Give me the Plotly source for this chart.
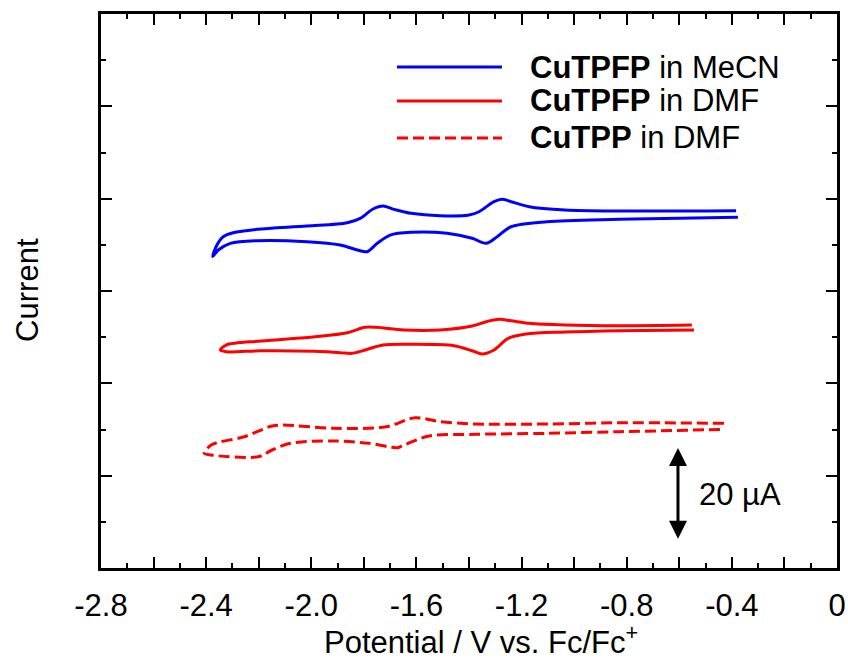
import plotly.graph_objects as go

# ---- data (potential in V vs Fc/Fc+, current in µA with arbitrary offsets) ----
blue_upper_v = [-2.375, -2.359, -2.335, -2.297, -2.206, -2.016, -1.863, -1.814, -1.765, -1.727, -1.685,
                -1.620, -1.510, -1.400, -1.362, -1.305, -1.274, -1.240, -1.171, -1.035, -0.829, -0.384]
blue_upper_i = [67.47, 69.96, 71.76, 72.62, 73.36, 74.07, 74.79, 75.74, 77.76, 78.41, 77.69,
                76.82, 76.30, 76.46, 77.17, 79.34, 79.86, 79.34, 78.25, 77.54, 77.32, 77.39]
blue_lower_v = [-2.375, -2.354, -2.308, -2.206, -2.016, -1.890, -1.825, -1.788, -1.749, -1.700,
                -1.620, -1.483, -1.388, -1.335, -1.293, -1.240, -1.103, -0.829, -0.377]
blue_lower_i = [67.47, 68.88, 70.33, 70.89, 70.67, 69.96, 68.88, 68.51, 70.33, 72.12,
                72.71, 72.49, 71.41, 70.33, 71.76, 73.92, 75.01, 75.52, 75.96]

red_upper_v = [-2.346, -2.324, -2.190, -1.985, -1.863, -1.795, -1.753, -1.647, -1.510, -1.388,
               -1.335, -1.285, -1.240, -1.171, -1.035, -0.829, -0.552]
red_upper_i = [47.22, 48.30, 49.17, 50.10, 50.96, 52.13, 52.13, 51.55, 51.55, 52.41,
               53.35, 53.87, 53.56, 53.00, 52.63, 52.48, 52.63]
red_lower_v = [-2.346, -2.324, -2.190, -1.985, -1.890, -1.845, -1.795, -1.727, -1.620, -1.457,
               -1.388, -1.350, -1.305, -1.251, -1.183, -1.035, -0.829, -0.544]
red_lower_i = [47.22, 46.85, 47.06, 46.93, 46.63, 46.50, 47.22, 48.30, 48.45, 48.15,
               47.06, 46.35, 47.22, 49.75, 50.68, 51.11, 51.40, 51.55]

dash_upper_v = [-2.407, -2.381, -2.255, -2.149, -2.107, -1.917, -1.715, -1.605, -1.510, -1.373,
                -1.103, -0.829, -0.430]
dash_upper_i = [24.84, 26.64, 28.44, 30.76, 30.97, 30.26, 30.60, 32.55, 31.69, 31.19,
                31.19, 31.47, 31.34]
dash_lower_v = [-2.407, -2.381, -2.202, -2.149, -2.080, -1.917, -1.780, -1.673, -1.647, -1.552,
                -1.373, -1.103, -0.829, -0.430]
dash_lower_i = [24.84, 24.47, 24.11, 25.56, 27.01, 27.51, 27.01, 26.06, 26.64, 28.59,
                28.96, 29.17, 29.52, 30.04]

legend_bold = ["CuTPFP", "CuTPFP", "CuTPP"]
legend_rest = [" in MeCN", " in DMF", " in DMF"]
x_tick_vals = [-2.8, -2.4, -2.0, -1.6, -1.2, -0.8, -0.4, 0.0]
x_tick_text = ["-2.8", "-2.4", "-2.0", "-1.6", "-1.2", "-0.8", "-0.4", "0"]
scale_bar_uA = 20
scale_bar_x = -0.605
scale_bar_y0 = 6.0

FONT = "Liberation Sans, Arial, sans-serif"
BLUE = "#0000FF"
RED = "#FF0000"
DASH = "11px,5px"


def loop(uv, ui, lv, li):
    return uv[::-1] + lv[1:], ui[::-1] + li[1:]


fig = go.Figure()
series = [
    (blue_upper_v, blue_upper_i, blue_lower_v, blue_lower_i, BLUE, "solid"),
    (red_upper_v, red_upper_i, red_lower_v, red_lower_i, RED, "solid"),
    (dash_upper_v, dash_upper_i, dash_lower_v, dash_lower_i, RED, DASH),
]
for uv, ui, lv, li, col, dash in series:
    x, y = loop(uv, ui, lv, li)
    fig.add_trace(go.Scatter(x=x, y=y, mode="lines",
                             line=dict(color=col, width=3, dash=dash, shape="spline", smoothing=0.9),
                             showlegend=False, hoverinfo="skip"))
# invisible trace to carry the secondary (long-tick) x axis
fig.add_trace(go.Scatter(x=[-2.8, 0], y=[0, 0], xaxis="x2", mode="lines",
                         line=dict(width=0), opacity=0, showlegend=False, hoverinfo="skip"))

# manual legend
leg_y = [0.9043, 0.8430, 0.7762]
for k, (col, dash) in enumerate([(BLUE, "solid"), (RED, "solid"), (RED, DASH)]):
    fig.add_shape(type="line", xref="paper", yref="paper", x0=0.4022, x1=0.5448,
                  y0=leg_y[k], y1=leg_y[k], line=dict(color=col, width=3, dash=dash))
    fig.add_annotation(xref="paper", yref="paper", x=0.5802, y=leg_y[k], xanchor="left",
                       yanchor="middle", showarrow=False,
                       text=f"<b>{legend_bold[k]}</b>{legend_rest[k]}",
                       font=dict(family=FONT, size=31, color="black"))

# scale bar
fig.add_annotation(x=scale_bar_x, y=scale_bar_y0 + scale_bar_uA, ax=scale_bar_x, ay=scale_bar_y0,
                   xref="x", yref="y", axref="x", ayref="y", text="", showarrow=True,
                   arrowside="end+start", arrowhead=2, startarrowhead=2,
                   arrowsize=1.2, startarrowsize=1.2, arrowwidth=3, arrowcolor="black")
fig.add_annotation(x=-0.533, y=scale_bar_y0 + scale_bar_uA / 2, xref="x", yref="y",
                   xanchor="left", yanchor="middle", showarrow=False, text="20 µA",
                   font=dict(family=FONT, size=31, color="black"))

# axis titles
fig.add_annotation(xref="paper", yref="paper", x=0.516, y=-0.13, xanchor="center", yanchor="middle",
                   showarrow=False, text="Potential / V vs. Fc/Fc<sup>+</sup>",
                   font=dict(family=FONT, size=31, color="black"))
fig.add_annotation(xref="paper", yref="paper", x=-0.0992, y=0.502, xanchor="center", yanchor="middle",
                   showarrow=False, text="Current", textangle=-90,
                   font=dict(family=FONT, size=31, color="black"))

fig.update_layout(
    width=848, height=664,
    margin=dict(l=101, r=11, t=14, b=96, autoexpand=False),
    paper_bgcolor="white", plot_bgcolor="white",
    font=dict(family=FONT, size=31, color="black"),
    showlegend=False,
    xaxis=dict(range=[-2.8, 0], tickvals=x_tick_vals, ticktext=x_tick_text,
               ticks="inside", ticklen=11, tickwidth=2, tickcolor="black",
               minor=dict(dtick=0.1, tick0=0, ticks="inside", ticklen=5, tickwidth=2, tickcolor="black"),
               showline=True, linewidth=3, linecolor="black", mirror="ticks",
               showgrid=False, zeroline=False, ticklabelstandoff=8, automargin=False,
               tickfont=dict(family=FONT, size=31, color="black")),
    xaxis2=dict(range=[-2.8, 0], overlaying="x", side="bottom", anchor="y",
                tick0=0, dtick=0.2, ticks="inside", ticklen=11, tickwidth=2, tickcolor="black",
                showline=True, linewidth=3, linecolor="black", mirror="ticks",
                showgrid=False, zeroline=False, showticklabels=False, automargin=False),
    yaxis=dict(range=[0, 120], dtick=20, tick0=0,
               ticks="inside", ticklen=11, tickwidth=2, tickcolor="black",
               minor=dict(dtick=10, ticks="inside", ticklen=5, tickwidth=2, tickcolor="black"),
               showline=True, linewidth=3, linecolor="black", mirror="ticks",
               showgrid=False, zeroline=False, showticklabels=False, automargin=False),
)

# remove the default 8px page margin so the 848x664 figure fills the window exactly
fig.write_html("out.html",
               config={"displayModeBar": False, "staticPlot": True},
               post_script="document.body.style.margin='0';document.body.style.overflow='hidden';")
